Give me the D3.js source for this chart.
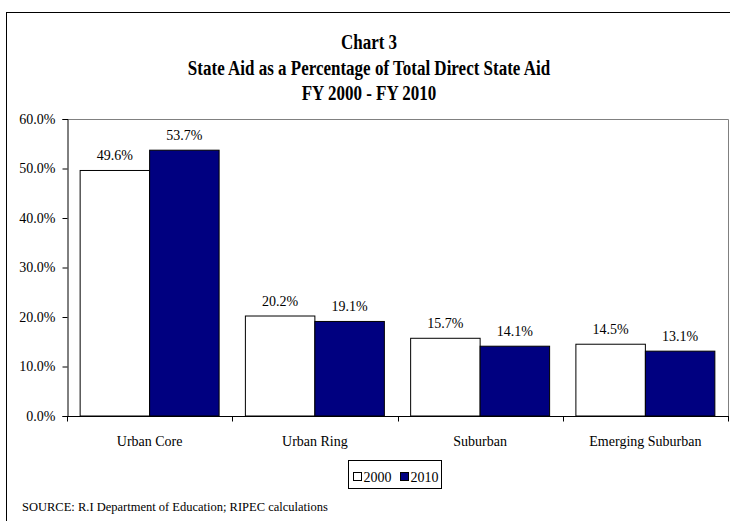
<!DOCTYPE html>
<html>
<head>
<meta charset="utf-8">
<script src="https://cdn.jsdelivr.net/npm/d3@7/dist/d3.min.js"></script>
<style>
  html, body { margin: 0; padding: 0; background: #fff; }
  svg { display: block; }
  svg text { font-family: "Liberation Serif", "Times New Roman", Times, serif; fill: #000; }
</style>
</head>
<body>
<svg id="chart" width="730" height="521"></svg>
<script>
// Share of total direct state aid by community type
const categories = ["Urban Core", "Urban Ring", "Suburban", "Emerging Suburban"];
const seriesNames = ["2000", "2010"];
const values2000 = [49.6, 20.2, 15.7, 14.5];
const values2010 = [53.7, 19.1, 14.1, 13.1];
const yTicks = [0, 10, 20, 30, 40, 50, 60];
const titleLines = ["Chart 3", "State Aid as a Percentage of Total Direct State Aid", "FY 2000 - FY 2010"];
const sourceNote = "SOURCE: R.I Department of Education; RIPEC calculations";

const seriesColors = { "2000": "#ffffff", "2010": "#000080" };

const svg = d3.select("#chart");
const W = 730, H = 521;

// Outer frame (runs off the right and bottom edges)
svg.append("rect")
  .attr("x", 6.5).attr("y", 12.5)
  .attr("width", W + 10).attr("height", H + 10)
  .attr("fill", "none").attr("stroke", "#000").attr("stroke-width", 1);

// Titles (tall bold serif)
const titleY = [49, 75, 100];
svg.append("g").selectAll("g")
  .data(titleLines)
  .join("g")
  .attr("transform", (d, i) => `translate(369,${titleY[i]}) scale(1,1.2)`)
  .append("text")
  .attr("text-anchor", "middle")
  .attr("font-weight", "bold")
  .attr("font-size", 17)
  .text(d => d);

// Plot area
const plot = { left: 67, right: 728, top: 119, bottom: 416 };

const y = d3.scaleLinear().domain([0, 60]).range([plot.bottom, plot.top]);
const x0 = d3.scaleBand()
  .domain(categories)
  .range([plot.left, plot.right])
  .paddingInner(0.159)
  .paddingOuter(0.0795);
const x1 = d3.scaleBand()
  .domain(seriesNames)
  .range([0, x0.bandwidth()]);

// Plot-area border: grey top and right edges
svg.append("path")
  .attr("d", `M${plot.left},${plot.top + 0.5}H${plot.right + 0.5}V${plot.bottom}`)
  .attr("fill", "none").attr("stroke", "#808080").attr("stroke-width", 1);

// Bars
const rows = categories.map((c, i) => ({ category: c, values: [
  { series: "2000", value: values2000[i] },
  { series: "2010", value: values2010[i] }
]}));

const groups = svg.append("g").selectAll("g")
  .data(rows)
  .join("g")
  .attr("transform", d => `translate(${x0(d.category)},0)`);

groups.selectAll("rect")
  .data(d => d.values)
  .join("rect")
  .attr("x", d => x1(d.series))
  .attr("y", d => y(d.value))
  .attr("width", x1.bandwidth())
  .attr("height", d => y(0) - y(d.value))
  .attr("fill", d => seriesColors[d.series])
  .attr("stroke", "#000")
  .attr("stroke-width", 1);

groups.selectAll("text")
  .data(d => d.values)
  .join("text")
  .attr("x", d => x1(d.series) + x1.bandwidth() / 2)
  .attr("y", d => y(d.value) - 10)
  .attr("text-anchor", "middle")
  .attr("font-size", 14)
  .text(d => d.value.toFixed(1) + "%");

// Y axis
const yAxis = svg.append("g")
  .attr("transform", `translate(${plot.left + 0.5},0)`)
  .call(d3.axisLeft(y).tickValues(yTicks).tickSize(5).tickPadding(7)
    .tickFormat(d => d.toFixed(1) + "%"));
yAxis.attr("font-family", null);
yAxis.selectAll("text").attr("font-size", 14);
yAxis.select(".domain").attr("stroke", "#000");

// X axis with ticks between categories
const xAxis = svg.append("g")
  .attr("transform", `translate(0,${plot.bottom + 0.5})`);
xAxis.append("line")
  .attr("x1", plot.left).attr("x2", plot.right + 1)
  .attr("stroke", "#000");
const step = x0.step();
const boundaries = d3.range(categories.length + 1).map(i => plot.left + i * step);
xAxis.selectAll("line.tick")
  .data(boundaries)
  .join("line")
  .attr("class", "tick")
  .attr("x1", d => Math.round(d) + 0.5).attr("x2", d => Math.round(d) + 0.5)
  .attr("y1", 0).attr("y2", 5)
  .attr("stroke", "#000");
xAxis.selectAll("text")
  .data(categories)
  .join("text")
  .attr("x", d => x0(d) + x0.bandwidth() / 2)
  .attr("y", 29)
  .attr("text-anchor", "middle")
  .attr("font-size", 14)
  .text(d => d);

// Legend
const legend = svg.append("g").attr("transform", "translate(348.5,460.5)");
legend.append("rect")
  .attr("width", 93).attr("height", 28)
  .attr("fill", "#fff").attr("stroke", "#000");
const legendItems = legend.selectAll("g")
  .data(seriesNames)
  .join("g")
  .attr("transform", (d, i) => `translate(${5 + i * 47},12)`);
legendItems.append("rect")
  .attr("width", 8).attr("height", 8)
  .attr("fill", d => seriesColors[d])
  .attr("stroke", "#000");
legendItems.append("text")
  .attr("x", 10).attr("y", 9)
  .attr("font-size", 14)
  .text(d => d);

// Source note
svg.append("text")
  .attr("x", 22).attr("y", 511)
  .attr("font-size", 12.5)
  .text(sourceNote);
</script>
</body>
</html>
